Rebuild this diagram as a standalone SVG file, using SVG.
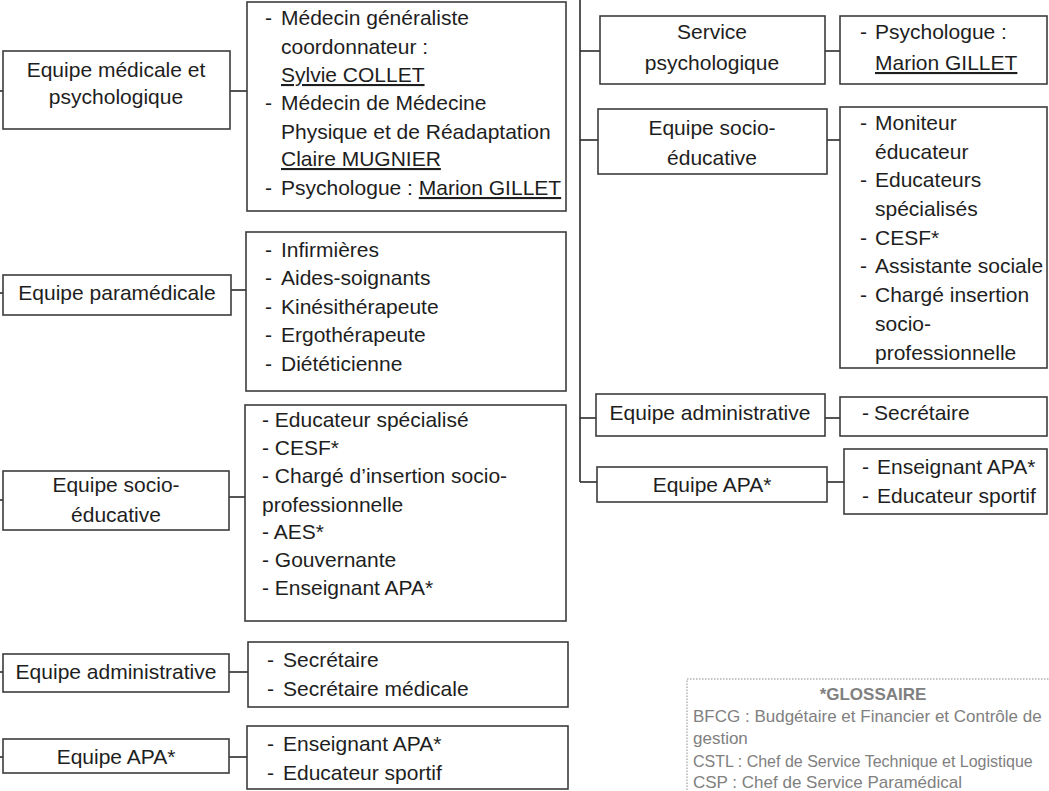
<svg xmlns="http://www.w3.org/2000/svg" width="1049" height="791" viewBox="0 0 1049 791">
<style>
.box{fill:#fff;stroke:#3c3c3c;stroke-width:1.6}
.t{font-family:"Liberation Sans",Arial,sans-serif;font-size:21px;fill:#1e1e1e}
.c{text-anchor:middle}
.u{text-decoration:underline}
.conn line{stroke:#2a2a2a;stroke-width:1.6}
.gl{font-family:"Liberation Sans",Arial,sans-serif;font-size:17px;fill:#808080}
</style>
<rect width="1049" height="791" fill="#fff"/>
<g id="connectors" class="conn">
<line x1="0" y1="91" x2="3" y2="91"/>
<line x1="0" y1="293" x2="3" y2="293"/>
<line x1="0" y1="500" x2="3" y2="500"/>
<line x1="0" y1="672" x2="3" y2="672"/>
<line x1="0" y1="757" x2="3" y2="757"/>
<line x1="230" y1="91" x2="247" y2="91"/>
<line x1="231" y1="290" x2="246" y2="290"/>
<line x1="229" y1="497" x2="245" y2="497"/>
<line x1="229" y1="672" x2="248" y2="672"/>
<line x1="229" y1="757" x2="247" y2="757"/>
<line x1="580" y1="0" x2="580" y2="482"/>
<line x1="580" y1="51" x2="600" y2="51"/>
<line x1="580" y1="140" x2="598" y2="140"/>
<line x1="580" y1="418" x2="596" y2="418"/>
<line x1="580" y1="482" x2="597" y2="482"/>
<line x1="825" y1="51" x2="840" y2="51"/>
<line x1="827" y1="140" x2="840" y2="140"/>
<line x1="825" y1="418" x2="840" y2="418"/>
<line x1="827" y1="482" x2="844" y2="482"/>
</g>
<g id="n-med">
<rect class="box" x="3" y="51" width="227" height="78"/>
<text class="t c" x="116" y="77">Equipe médicale et</text>
<text class="t c" x="116" y="104">psychologique</text>
</g>
<g id="n-med-list">
<rect class="box" x="247" y="2" width="319" height="209"/>
<text class="t" y="25"><tspan x="265">-</tspan><tspan x="281">Médecin généraliste</tspan></text>
<text class="t" x="281" y="54">coordonnateur :</text>
<text class="t u" x="281" y="82">Sylvie COLLET</text>
<text class="t" y="110"><tspan x="265">-</tspan><tspan x="281">Médecin de Médecine</tspan></text>
<text class="t" x="281" y="139">Physique et de Réadaptation</text>
<text class="t u" x="281" y="166">Claire MUGNIER</text>
<text class="t" y="195"><tspan x="265">-</tspan><tspan x="281">Psychologue : </tspan><tspan class="u">Marion GILLET</tspan></text>
</g>
<g id="n-para">
<rect class="box" x="3" y="275" width="228" height="40"/>
<text class="t c" x="117" y="300">Equipe paramédicale</text>
</g>
<g id="n-para-list">
<rect class="box" x="246" y="232" width="320" height="159"/>
<text class="t" y="257"><tspan x="265">-</tspan><tspan x="281">Infirmières</tspan></text>
<text class="t" y="285"><tspan x="265">-</tspan><tspan x="281">Aides-soignants</tspan></text>
<text class="t" y="314"><tspan x="265">-</tspan><tspan x="281">Kinésithérapeute</tspan></text>
<text class="t" y="342"><tspan x="265">-</tspan><tspan x="281">Ergothérapeute</tspan></text>
<text class="t" y="371"><tspan x="265">-</tspan><tspan x="281">Diététicienne</tspan></text>
</g>
<g id="n-socio">
<rect class="box" x="3" y="471" width="226" height="59"/>
<text class="t c" x="116" y="492">Equipe socio-</text>
<text class="t c" x="116" y="522">éducative</text>
</g>
<g id="n-socio-list">
<rect class="box" x="245" y="405" width="321" height="216"/>
<text class="t" x="262" y="427">- Educateur spécialisé</text>
<text class="t" x="262" y="455">- CESF*</text>
<text class="t" x="262" y="483">- Chargé d’insertion socio-</text>
<text class="t" x="262" y="512">professionnelle</text>
<text class="t" x="262" y="539">- AES*</text>
<text class="t" x="262" y="567">- Gouvernante</text>
<text class="t" x="262" y="595">- Enseignant APA*</text>
</g>
<g id="n-adm">
<rect class="box" x="3" y="654" width="226" height="38"/>
<text class="t c" x="116" y="679">Equipe administrative</text>
</g>
<g id="n-adm-list">
<rect class="box" x="248" y="642" width="320" height="65"/>
<text class="t" y="667"><tspan x="267">-</tspan><tspan x="283">Secrétaire</tspan></text>
<text class="t" y="696"><tspan x="267">-</tspan><tspan x="283">Secrétaire médicale</tspan></text>
</g>
<g id="n-apa">
<rect class="box" x="3" y="739" width="226" height="34"/>
<text class="t c" x="116" y="764">Equipe APA*</text>
</g>
<g id="n-apa-list">
<rect class="box" x="247" y="726" width="321" height="63"/>
<text class="t" y="751"><tspan x="267">-</tspan><tspan x="283">Enseignant APA*</tspan></text>
<text class="t" y="780"><tspan x="267">-</tspan><tspan x="283">Educateur sportif</tspan></text>
</g>
<g id="n-r-psy">
<rect class="box" x="600" y="16" width="225" height="68"/>
<text class="t c" x="712" y="39">Service</text>
<text class="t c" x="712" y="70">psychologique</text>
</g>
<g id="n-r-psy-list">
<rect class="box" x="840" y="16" width="207" height="68"/>
<text class="t" y="39"><tspan x="860">-</tspan><tspan x="875">Psychologue :</tspan></text>
<text class="t u" x="875" y="70">Marion GILLET</text>
</g>
<g id="n-r-socio">
<rect class="box" x="598" y="109" width="229" height="65"/>
<text class="t c" x="712" y="135">Equipe socio-</text>
<text class="t c" x="712" y="165">éducative</text>
</g>
<g id="n-r-socio-list">
<rect class="box" x="840" y="107" width="207" height="261"/>
<text class="t" y="130"><tspan x="860">-</tspan><tspan x="875">Moniteur</tspan></text>
<text class="t" x="875" y="159">éducateur</text>
<text class="t" y="187"><tspan x="860">-</tspan><tspan x="875">Educateurs</tspan></text>
<text class="t" x="875" y="216">spécialisés</text>
<text class="t" y="245"><tspan x="860">-</tspan><tspan x="875">CESF*</tspan></text>
<text class="t" y="273"><tspan x="860">-</tspan><tspan x="875">Assistante sociale</tspan></text>
<text class="t" y="302"><tspan x="860">-</tspan><tspan x="875">Chargé insertion</tspan></text>
<text class="t" x="875" y="331">socio-</text>
<text class="t" x="875" y="360">professionnelle</text>
</g>
<g id="n-r-adm">
<rect class="box" x="596" y="394" width="229" height="42"/>
<text class="t c" x="710" y="420">Equipe administrative</text>
</g>
<g id="n-r-adm-list">
<rect class="box" x="840" y="397" width="207" height="39"/>
<text class="t" y="420"><tspan x="862">-</tspan><tspan x="874">Secrétaire</tspan></text>
</g>
<g id="n-r-apa">
<rect class="box" x="597" y="467" width="230" height="35"/>
<text class="t c" x="712" y="492">Equipe APA*</text>
</g>
<g id="n-r-apa-list">
<rect class="box" x="844" y="449" width="203" height="65"/>
<text class="t" y="474"><tspan x="862">-</tspan><tspan x="877">Enseignant APA*</tspan></text>
<text class="t" y="503"><tspan x="862">-</tspan><tspan x="877">Educateur sportif</tspan></text>
</g>
<g id="glossaire">
<rect x="687" y="679" width="380" height="130" fill="#fff" stroke="#8a8a8a" stroke-width="1" stroke-dasharray="1.5 1.5"/>
<text class="gl c" x="873" y="700" font-weight="bold">*GLOSSAIRE</text>
<text class="gl" x="693" y="722">BFCG : Budgétaire et Financier et Contrôle de</text>
<text class="gl" x="693" y="744">gestion</text>
<text class="gl" x="693" y="767" style="font-size:16px">CSTL : Chef de Service Technique et Logistique</text>
<text class="gl" x="693" y="788">CSP : Chef de Service Paramédical</text>
</g>
</svg>
